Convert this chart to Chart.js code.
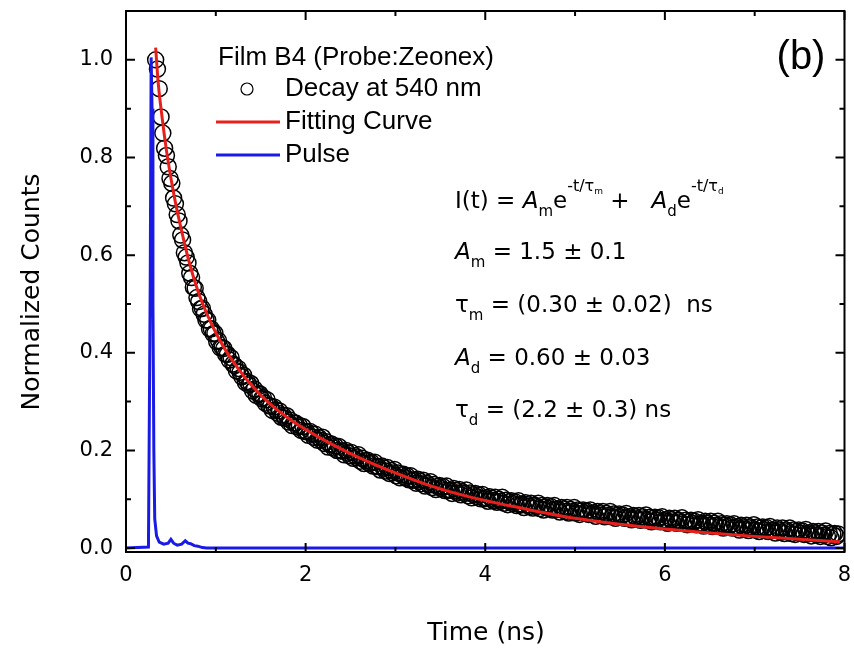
<!DOCTYPE html>
<html lang="en">
<head>
  <meta charset="UTF-8">
  <script src="https://cdn.jsdelivr.net/npm/chart.js@4.4.0/dist/chart.umd.min.js"></script>
  <style>
    body { margin: 0; background: #fff; }
    canvas { display: block; }
  </style>
</head>
<body>
  <canvas id="decayChart" width="854" height="653"></canvas>
  <script>
    // tick labels
    const xTicks = [0, 2, 4, 6, 8];
    const xMinor = [1, 3, 5, 7];
    const yTicks = [0.0, 0.2, 0.4, 0.6, 0.8, 1.0];
    const yMinor = [0.1, 0.3, 0.5, 0.7, 0.9];

    // decay at 540 nm, one reading every 0.02 ns starting at 0.33 ns
    const decayStart = 0.33;
    const decayStep = 0.02;
    const decayY = [
      1.000, 0.981, 0.941, 0.883, 0.850, 0.819, 0.804, 0.781, 0.757, 0.747,
      0.717, 0.705, 0.683, 0.670, 0.641, 0.631, 0.605, 0.596, 0.584, 0.563,
      0.554, 0.534, 0.532, 0.513, 0.505, 0.490, 0.491, 0.479, 0.467, 0.467,
      0.449, 0.449, 0.439, 0.440,
      0.423, 0.425, 0.410, 0.411, 0.409, 0.397, 0.397, 0.385, 0.390, 0.377,
      0.374, 0.363, 0.368, 0.360, 0.351, 0.354, 0.339, 0.341, 0.334, 0.337,
      0.322, 0.326, 0.313, 0.316, 0.316, 0.306, 0.308, 0.297, 0.304, 0.292,
      0.291, 0.282, 0.289, 0.283, 0.276, 0.281, 0.268, 0.272, 0.266, 0.271,
      0.258, 0.262, 0.251, 0.256, 0.256, 0.248, 0.251, 0.241, 0.249, 0.239,
      0.239, 0.231, 0.239, 0.234, 0.227, 0.233, 0.221, 0.226, 0.221, 0.227,
      0.214, 0.218, 0.207, 0.212, 0.213, 0.205, 0.209, 0.200, 0.208, 0.199,
      0.199, 0.191, 0.200, 0.195, 0.189, 0.196, 0.184, 0.189, 0.185, 0.191,
      0.178, 0.184, 0.173, 0.179, 0.180, 0.173, 0.176, 0.168, 0.176, 0.167,
      0.167, 0.160, 0.168, 0.164, 0.158, 0.165, 0.153, 0.159, 0.154, 0.161,
      0.148, 0.154, 0.144, 0.150, 0.151, 0.144, 0.148, 0.140, 0.148, 0.139,
      0.140, 0.133, 0.141, 0.137, 0.132, 0.139, 0.127, 0.133, 0.129, 0.136,
      0.124, 0.130, 0.120, 0.126, 0.128, 0.122, 0.126, 0.118, 0.127, 0.118,
      0.119, 0.112, 0.122, 0.118, 0.113, 0.120, 0.109, 0.115, 0.112, 0.119,
      0.107, 0.113, 0.103, 0.109, 0.112, 0.105, 0.109, 0.101, 0.110, 0.101,
      0.103, 0.096, 0.105, 0.102, 0.097, 0.104, 0.094, 0.100, 0.096, 0.104,
      0.092, 0.098, 0.089, 0.095, 0.097, 0.091, 0.095, 0.087, 0.097, 0.088,
      0.090, 0.083, 0.093, 0.089, 0.085, 0.092, 0.082, 0.088, 0.085, 0.092,
      0.081, 0.087, 0.078, 0.084, 0.087, 0.081, 0.085, 0.078, 0.087, 0.079,
      0.080, 0.074, 0.083, 0.080, 0.075, 0.083, 0.072, 0.079, 0.075, 0.083,
      0.072, 0.078, 0.069, 0.076, 0.078, 0.072, 0.076, 0.069, 0.078, 0.070,
      0.072, 0.065, 0.075, 0.071, 0.067, 0.075, 0.064, 0.071, 0.067, 0.075,
      0.064, 0.070, 0.061, 0.067, 0.070, 0.064, 0.068, 0.061, 0.071, 0.062,
      0.064, 0.058, 0.067, 0.064, 0.060, 0.067, 0.057, 0.064, 0.060, 0.068,
      0.057, 0.063, 0.054, 0.061, 0.063, 0.057, 0.062, 0.054, 0.064, 0.056,
      0.058, 0.051, 0.061, 0.058, 0.053, 0.061, 0.051, 0.057, 0.054, 0.062,
      0.050, 0.057, 0.048, 0.054, 0.057, 0.051, 0.055, 0.048, 0.058, 0.049,
      0.051, 0.045, 0.055, 0.051, 0.047, 0.055, 0.044, 0.051, 0.047, 0.055,
      0.044, 0.050, 0.041, 0.047, 0.050, 0.044, 0.048, 0.041, 0.050, 0.042,
      0.044, 0.037, 0.047, 0.043, 0.039, 0.047, 0.036, 0.043, 0.040, 0.048,
      0.037, 0.043, 0.034, 0.041, 0.043, 0.037, 0.042, 0.034, 0.044, 0.036,
      0.037, 0.031, 0.041, 0.037, 0.033, 0.041, 0.030, 0.037, 0.034, 0.041,
      0.030, 0.037, 0.028, 0.034, 0.037, 0.031, 0.035, 0.028, 0.038, 0.029,
      0.031, 0.025, 0.034, 0.031, 0.027, 0.034, 0.024, 0.031, 0.027, 0.035,
      0.024, 0.030, 0.021, 0.028, 0.030, 0.024, 0.029
    ];

    // fitting curve
    const fitT = [0.33, 0.36, 0.40, 0.45, 0.50, 0.55, 0.60, 0.70, 0.80, 0.90, 1.0, 1.1, 1.2, 1.4, 1.6,
                  1.8, 2.0, 2.3, 2.6, 3.0, 3.4, 3.8, 4.4, 5.0, 5.5, 6.0, 6.5, 7.0, 7.5, 7.95];
    const fitY = [1.025, 0.95, 0.885, 0.815, 0.758, 0.708, 0.665, 0.588, 0.527, 0.480, 0.441, 0.408, 0.380, 0.333, 0.296,
                  0.267, 0.243, 0.212, 0.185, 0.154, 0.127, 0.106, 0.082, 0.061, 0.049, 0.039, 0.031, 0.024, 0.018, 0.013];

    // instrument pulse
    const pulseT = [0, 0.25, 0.27, 0.28, 0.29, 0.30, 0.31, 0.32, 0.34, 0.37, 0.42, 0.47, 0.50, 0.53,
                    0.57, 0.62, 0.66, 0.69, 0.72, 0.76, 0.80, 0.85, 0.90, 8.0];
    const pulseY = [0, 0.002, 0.55, 1.005, 0.90, 0.50, 0.20, 0.06, 0.025, 0.012, 0.008, 0.010, 0.018, 0.010,
                    0.006, 0.008, 0.015, 0.010, 0.009, 0.005, 0.004, 0.001, 0, 0];

    const legendTitle = 'Film B4 (Probe:Zeonex)';
    const seriesNames = ['Decay at 540 nm', 'Fitting Curve', 'Pulse'];
    const panelLabel = '(b)';

    const eqFont = '"DejaVu Sans", sans-serif';
    const tickFont = { family: '"DejaVu Sans", sans-serif', size: 21 };

    const decayPts = decayY.map((y, i) => ({ x: decayStart + i * decayStep, y: y }));
    const fitPts = fitT.map((t, i) => ({ x: t, y: fitY[i] }));
    const pulsePts = pulseT.map((t, i) => ({ x: t, y: pulseY[i] }));

    // draws one line of text made of pieces: [text, size, dy, italic]
    function drawPieces(c, x, y, pieces) {
      pieces.forEach(p => {
        c.font = (p[3] ? 'italic ' : '') + p[1] + 'px ' + eqFont;
        c.fillText(p[0], x, y + p[2]);
        x += c.measureText(p[0]).width;
      });
    }

    const extras = {
      id: 'extras',
      afterDraw(chart) {
        const c = chart.ctx;
        const a = chart.chartArea;
        const xs = chart.scales.x, ys = chart.scales.y;
        c.save();
        c.strokeStyle = '#000';
        c.lineWidth = 2;
        c.strokeRect(a.left, a.top, a.right - a.left, a.bottom - a.top);

        // inward ticks on all four sides
        c.beginPath();
        xTicks.concat(xMinor).forEach(v => {
          const px = xs.getPixelForValue(v);
          const len = xTicks.includes(v) ? 9 : 5;
          c.moveTo(px, a.bottom); c.lineTo(px, a.bottom - len);
          c.moveTo(px, a.top); c.lineTo(px, a.top + len);
        });
        yTicks.concat(yMinor).forEach(v => {
          const py = ys.getPixelForValue(v);
          const len = yTicks.includes(v) ? 9 : 5;
          c.moveTo(a.left, py); c.lineTo(a.left + len, py);
          c.moveTo(a.right, py); c.lineTo(a.right - len, py);
        });
        c.stroke();

        // axis titles
        c.fillStyle = '#000';
        c.textAlign = 'center';
        c.textBaseline = 'middle';
        c.font = '25px ' + eqFont;
        c.fillText('Time (ns)', 486, 633);
        c.save();
        c.translate(32, 292);
        c.rotate(-Math.PI / 2);
        c.fillText('Normalized Counts', 0, 0);
        c.restore();

        // panel label
        c.font = '40px "Liberation Sans", Arial, sans-serif';
        c.fillText(panelLabel, 801, 58);

        // legend
        c.textAlign = 'left';
        c.font = '26px "Liberation Sans", Arial, sans-serif';
        c.fillText(legendTitle, 218, 58);
        c.fillText(seriesNames[0], 285, 89);
        c.fillText(seriesNames[1], 285, 122);
        c.fillText(seriesNames[2], 285, 155);
        c.beginPath();
        c.lineWidth = 1.2;
        c.arc(247, 89, 6, 0, Math.PI * 2);
        c.stroke();
        c.lineWidth = 3;
        c.strokeStyle = '#e8201c';
        c.beginPath(); c.moveTo(216, 122); c.lineTo(280, 122); c.stroke();
        c.strokeStyle = '#1a1ae6';
        c.beginPath(); c.moveTo(216, 155); c.lineTo(280, 155); c.stroke();

        // fit equation and parameters
        c.textBaseline = 'alphabetic';
        drawPieces(c, 455, 208, [
          ['I(t) = ', 23, 0], ['A', 23, 0, true], ['m', 15, 8], ['e', 23, 0],
          ['-t/τ', 16, -17], ['m', 9, -14], [' + ', 23, 0], ['  ', 23, 0],
          ['A', 23, 0, true], ['d', 15, 8], ['e', 23, 0], ['-t/τ', 16, -17], ['d', 9, -14]
        ]);
        drawPieces(c, 455, 259, [['A', 23, 0, true], ['m', 15, 8], [' = 1.5 ± 0.1', 23, 0]]);
        drawPieces(c, 455, 312, [['τ', 23, 0], ['m', 15, 8], [' = (0.30 ± 0.02)  ns', 23, 0]]);
        drawPieces(c, 455, 365, [['A', 23, 0, true], ['d', 15, 8], [' = 0.60 ± 0.03', 23, 0]]);
        drawPieces(c, 455, 417, [['τ', 23, 0], ['d', 15, 8], [' = (2.2 ± 0.3) ns', 23, 0]]);
        c.restore();
      }
    };

    const ctx = document.getElementById('decayChart').getContext('2d');
    new Chart(ctx, {
      type: 'scatter',
      data: {
        datasets: [
          {
            label: seriesNames[1],
            data: fitPts,
            showLine: true,
            borderColor: '#e8201c',
            borderWidth: 3,
            pointRadius: 0,
            cubicInterpolationMode: 'monotone',
            order: 0
          },
          {
            label: seriesNames[2],
            data: pulsePts,
            showLine: true,
            borderColor: '#1a1ae6',
            borderWidth: 3,
            pointRadius: 0,
            tension: 0,
            order: 1
          },
          {
            label: seriesNames[0],
            data: decayPts,
            showLine: false,
            pointRadius: 8,
            pointBorderWidth: 1.5,
            pointBorderColor: '#000',
            pointBackgroundColor: 'rgba(255,255,255,0)',
            order: 2
          }
        ]
      },
      options: {
        responsive: false,
        animation: false,
        layout: { padding: { top: 11, right: 8, left: 0, bottom: 0 } },
        plugins: { legend: { display: false }, tooltip: { enabled: false } },
        scales: {
          x: {
            type: 'linear',
            min: 0,
            max: 8,
            afterFit(s) { s.height = 101; s.paddingLeft = 0; s.paddingRight = 0; },
            afterBuildTicks(s) { s.ticks = xTicks.map(v => ({ value: v })); },
            grid: { display: false, drawTicks: false },
            border: { display: false },
            ticks: { padding: 11, color: '#000', font: tickFont, maxRotation: 0, callback: v => String(v) }
          },
          y: {
            type: 'linear',
            min: -0.008,
            max: 1.1,
            afterFit(s) { s.width = 126; s.paddingTop = 0; s.paddingBottom = 0; },
            afterBuildTicks(s) { s.ticks = yTicks.map(v => ({ value: v })); },
            grid: { display: false, drawTicks: false },
            border: { display: false },
            ticks: { padding: 13, color: '#000', font: tickFont, callback: v => v.toFixed(1) }
          }
        }
      },
      plugins: [extras]
    });
  </script>
</body>
</html>
